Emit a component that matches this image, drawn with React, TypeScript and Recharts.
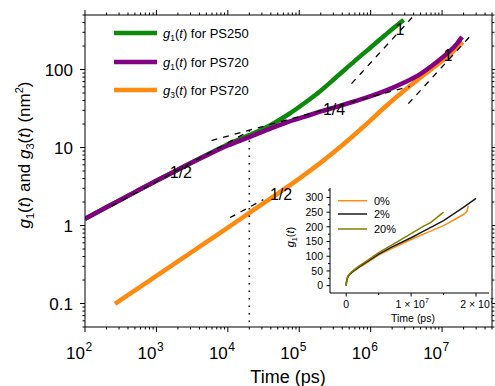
import React from "react";
import { LineChart, Line, XAxis, YAxis, ReferenceDot } from "recharts";

const FONT = "'Liberation Sans', Arial, Helvetica, sans-serif";

// main chart series, [time (ps), g (nm^2)]
const ps250G1 = [
	[100, 1.22], [200, 1.71], [500, 2.68], [1e3, 3.75], [2e3, 5.2], [5e3, 8.0], [1e4, 11.0], [2e4, 14.4],
	[4e4, 19.5], [7e4, 26.5], [1.2e5, 37.5], [2e5, 53.6], [3.5e5, 83.7], [6e5, 129], [1e6, 192],
	[1.6e6, 277], [2.2e6, 354], [2.9e6, 432],
];
const ps720G1 = [
	[100, 1.22], [200, 1.71], [500, 2.68], [1e3, 3.75], [2e3, 5.2], [5e3, 7.9], [1e4, 10.6], [2e4, 13.6],
	[4e4, 17.6], [7e4, 21.3], [1.2e5, 24.9], [2e5, 29.0], [3.5e5, 33.7], [6e5, 39.2], [1e6, 45.5],
	[1.8e6, 55.6], [3e6, 68.5], [5e6, 88], [8e6, 120], [1.2e7, 163], [1.6e7, 212], [1.9e7, 262],
];
const ps720G3 = [
	[263, 0.099], [500, 0.147], [1e3, 0.226], [2e3, 0.347], [5e3, 0.612], [1e4, 0.94], [2e4, 1.45],
	[5e4, 2.57], [1e5, 4.0], [2e5, 6.4], [4e5, 10.7], [8e5, 18.6], [1.6e6, 33.3], [3.2e6, 57],
	[5e6, 79], [8e6, 110], [1.28e7, 156], [1.95e7, 224],
];

// guide lines
const slopeHalfA = [[237, 1.77], [2.05e4, 16.5]];
const slopeQuarter = [[5.9e3, 12.3], [3.56e6, 61]];
const slopeHalfB = [[1.07e4, 1.26], [3.14e4, 2.15]];
const slopeOneA = [[5.4e5, 66], [3.8e6, 464]];
const slopeOneB = [[3.37e6, 36.5], [2.47e7, 267]];
const crossover = [[2e4, 0.058], [2e4, 13.5]];

const slopeLabels = [
	{ t: 2.2e3, g: 4.79, text: "1/2" },
	{ t: 5.56e4, g: 2.5, text: "1/2" },
	{ t: 3.07e5, g: 30.8, text: "1/4" },
	{ t: 2.58e6, g: 328, text: "1" },
	{ t: 1.21e7, g: 152, text: "1" },
];

const xDecades = [1e2, 1e3, 1e4, 1e5, 1e6, 1e7];
const yDecades = [0.01, 0.1, 1, 10, 100];
const yLabels: Record<string, string> = { "0.1": "0.1", "1": "1", "10": "10", "100": "100" };
const mults = [1, 2, 3, 4, 5, 6, 7, 8, 9];
const xTicks = xDecades.flatMap((d) => mults.map((m) => m * d)).filter((v) => v >= 100 && v <= 5e7);
const yTicks = yDecades.flatMap((d) => mults.map((m) => +(m * d).toPrecision(3))).filter((v) => v >= 0.05 && v <= 500);

// inset series, [time (ps), g1 (nm^2)]
const inset0 = [
	[0, 0], [3e4, 10], [1e5, 20], [3e5, 32], [6e5, 39], [1e6, 47], [2e6, 62], [3e6, 75], [5e6, 104],
	[7e6, 126], [1e7, 157], [1.2e7, 176], [1.5e7, 204], [1.8e7, 241], [1.86e7, 252], [1.88e7, 271],
];
const inset2 = [
	[0, 0], [3e4, 10], [1e5, 20], [3e5, 32], [6e5, 40], [1e6, 48], [2e6, 64], [3e6, 78], [5e6, 107],
	[7e6, 131], [1e7, 163], [1.2e7, 186], [1.5e7, 221], [1.8e7, 265], [2e7, 297],
];
const inset20 = [
	[0, 0], [3e4, 11], [1e5, 22], [3e5, 34], [6e5, 42], [1e6, 50], [2e6, 67], [3e6, 82], [5e6, 112],
	[7e6, 138], [1e7, 177], [1.2e7, 203], [1.3e7, 214], [1.4e7, 232], [1.5e7, 250],
];
const insetXTicks = [0, 5e6, 1e7, 1.5e7, 2e7];
const insetXLabels: Record<string, string> = { "0": "0", "10000000": "1", "20000000": "2" };
const insetYTicks = [0, 25, 50, 75, 100, 125, 150, 175, 200, 225, 250, 275, 300, 325];

const pts = (a: number[][]) => a.map(([t, g]) => ({ t, g }));

const isMajor = (v: number) => Math.abs(Math.log10(v) - Math.round(Math.log10(v))) < 1e-6;

function XTick(props: any) {
	const { x, y, payload, side } = props;
	const v = payload.value;
	const major = isMajor(v);
	const d = side === "top" ? -1 : 1;
	return (
		<g>
			<line x1={x} x2={x} y1={y} y2={y + d * (major ? 5 : 2.5)} stroke="#000" />
			{major && side === "bottom" && (
				<g fontFamily={FONT} fill="#000">
					<text x={x} y={y + 32} textAnchor="end" fontSize={17}>10</text>
					<text x={x + 0.5} y={y + 24} fontSize={12}>{Math.round(Math.log10(v))}</text>
				</g>
			)}
		</g>
	);
}

function YTick(props: any) {
	const { x, y, payload, side } = props;
	const v = payload.value;
	const major = isMajor(v);
	const d = side === "right" ? 1 : -1;
	return (
		<g>
			<line x1={x} x2={x + d * (major ? 5 : 2.5)} y1={y} y2={y} stroke="#000" />
			{major && side === "left" && yLabels[String(v)] && (
				<text x={x - 12} y={y + 6} textAnchor="end" fontSize={17} fontFamily={FONT} fill="#000">
					{yLabels[String(v)]}
				</text>
			)}
		</g>
	);
}

function InsetXTick(props: any) {
	const { x, y, payload } = props;
	const v = payload.value;
	const lab = insetXLabels[String(v)];
	return (
		<g fontFamily={FONT} fill="#000">
			<line x1={x} x2={x} y1={y} y2={y + (lab ? 3.5 : 2)} stroke="#000" />
			{lab === "0" && (
				<text x={x} y={y + 15} textAnchor="middle" fontSize={10.5}>0</text>
			)}
			{lab && lab !== "0" && (
				<text x={x + 1} y={y + 15} textAnchor="middle" fontSize={10.5}>
					{lab} × 10<tspan dy={-5} fontSize={7}>7</tspan>
				</text>
			)}
		</g>
	);
}

function InsetYTick(props: any) {
	const { x, y, payload } = props;
	const v = payload.value;
	const major = v % 50 === 0 && v <= 300;
	return (
		<g>
			<line x1={x} x2={x - (major ? 3.5 : 2)} y1={y} y2={y} stroke="#000" />
			{major && (
				<text x={x - 7} y={y + 3.8} textAnchor="end" fontSize={10.5} fontFamily={FONT} fill="#000">
					{v}
				</text>
			)}
		</g>
	);
}

const guideProps = { stroke: "#000", strokeWidth: 1.3, strokeDasharray: "6 6", dot: false, isAnimationActive: false, type: "linear" as const };

function Gt({ sub, size }: { sub: string; size: number }) {
	return (
		<>
			<tspan fontStyle="italic">g</tspan>
			<tspan fontSize={size * 0.65} dy={size * 0.25}>{sub}</tspan>
			<tspan dy={-size * 0.25}>(</tspan>
			<tspan fontStyle="italic">t</tspan>
			<tspan>)</tspan>
		</>
	);
}

const legendItems = [
	{ color: "#0b8a0b", sub: "1", name: " for PS250", y: 33 },
	{ color: "#820082", sub: "1", name: " for PS720", y: 62 },
	{ color: "#ff8a10", sub: "3", name: " for PS720", y: 90 },
];
const insetLegend = [
	{ color: "#ff8a10", name: "0%", y: 200.7 },
	{ color: "#1a1a1a", name: "2%", y: 214 },
	{ color: "#808000", name: "20%", y: 229 },
];

export default function App() {
	return (
		<div style={{ position: "absolute", left: 0, top: 0, width: 495, height: 386, background: "#fff" }}>
			<LineChart width={495} height={386} margin={{ top: 14, right: 2, left: 84, bottom: 58 }}>
				<XAxis dataKey="t" type="number" scale="log" domain={[100, 5e7]} allowDataOverflow ticks={xTicks} interval={0}
					height={1} tickSize={0} tickMargin={0} stroke="#000" tick={(p: any) => <XTick {...p} side="bottom" />} />
				<XAxis xAxisId="top" orientation="top" dataKey="t" type="number" scale="log" domain={[100, 5e7]} allowDataOverflow ticks={xTicks} interval={0}
					height={1} tickSize={0} tickMargin={0} stroke="#000" tick={(p: any) => <XTick {...p} side="top" />} />
				<YAxis type="number" scale="log" domain={[0.05, 500]} allowDataOverflow ticks={yTicks} interval={0}
					width={1} tickSize={0} tickMargin={0} stroke="#000" tick={(p: any) => <YTick {...p} side="left" />} />
				<YAxis yAxisId="right" orientation="right" type="number" scale="log" domain={[0.05, 500]} allowDataOverflow ticks={yTicks} interval={0}
					width={1} tickSize={0} tickMargin={0} stroke="#000" tick={(p: any) => <YTick {...p} side="right" />} />
				<Line data={pts(ps250G1)} dataKey="g" type="monotone" stroke="#0b8a0b" strokeWidth={4.5} dot={false} isAnimationActive={false} />
				<Line data={pts(ps720G3)} dataKey="g" type="monotone" stroke="#ff8a10" strokeWidth={4.5} dot={false} isAnimationActive={false} />
				<Line data={pts(ps720G1)} dataKey="g" type="monotone" stroke="#820082" strokeWidth={4.5} dot={false} isAnimationActive={false} />
				<Line data={pts(slopeHalfA)} dataKey="g" {...guideProps} />
				<Line data={pts(slopeQuarter)} dataKey="g" {...guideProps} />
				<Line data={pts(slopeHalfB)} dataKey="g" {...guideProps} />
				<Line data={pts(slopeOneA)} dataKey="g" {...guideProps} />
				<Line data={pts(slopeOneB)} dataKey="g" {...guideProps} />
				<Line data={pts(crossover)} dataKey="g" {...guideProps} strokeWidth={1.6} strokeDasharray="1.5 6" />
				{slopeLabels.map((l, i) => (
					<ReferenceDot key={i} x={l.t} y={l.g} r={0} stroke="none" fill="none"
						label={{ value: l.text, position: "center", fontSize: 16, fill: "#000", fontFamily: FONT }} />
				))}
			</LineChart>

			<div style={{ position: "absolute", left: 270, top: 180 }}>
				<LineChart width={225} height={150} margin={{ top: 8, right: 6, left: 59, bottom: 36 }}>
					<XAxis dataKey="t" type="number" domain={[-2.5e6, 2.2e7]} allowDataOverflow ticks={insetXTicks} interval={0}
						height={1} tickSize={0} tickMargin={0} stroke="#000" tick={(p: any) => <InsetXTick {...p} />} />
					<YAxis type="number" domain={[-25, 332]} allowDataOverflow ticks={insetYTicks} interval={0}
						width={1} tickSize={0} tickMargin={0} stroke="#000" tick={(p: any) => <InsetYTick {...p} />} />
					<Line data={pts(inset0)} dataKey="g" type="linear" stroke="#ff8a10" strokeWidth={1.5} dot={false} isAnimationActive={false} />
					<Line data={pts(inset2)} dataKey="g" type="linear" stroke="#1a1a1a" strokeWidth={1.5} dot={false} isAnimationActive={false} />
					<Line data={pts(inset20)} dataKey="g" type="linear" stroke="#808000" strokeWidth={1.5} dot={false} isAnimationActive={false} />
				</LineChart>
			</div>

			<svg width={495} height={386} style={{ position: "absolute", left: 0, top: 0, pointerEvents: "none" }} fontFamily={FONT}>
				{legendItems.map((l) => (
					<g key={l.y}>
						<line x1={114} x2={157} y1={l.y} y2={l.y} stroke={l.color} strokeWidth={4.5} />
						<text x={163} y={l.y + 5} fontSize={13} fill="#000">
							<Gt sub={l.sub} size={13} />
							<tspan>{l.name}</tspan>
						</text>
					</g>
				))}
				<text transform="translate(30,155) rotate(-90)" textAnchor="middle" fontSize={17} fill="#000">
					<Gt sub="1" size={17} />
					<tspan> and </tspan>
					<Gt sub="3" size={17} />
					<tspan> (nm</tspan>
					<tspan fontSize={11} dy={-7}>2</tspan>
					<tspan dy={7}>)</tspan>
				</text>
				<text x={288} y={383} textAnchor="middle" fontSize={18} fill="#000">Time (ps)</text>

				{insetLegend.map((l) => (
					<g key={l.y}>
						<line x1={338} x2={367} y1={l.y} y2={l.y} stroke={l.color} strokeWidth={1.5} />
						<text x={374} y={l.y + 4} fontSize={11} fill="#000">{l.name}</text>
					</g>
				))}
				<text transform="translate(294,237) rotate(-90)" textAnchor="middle" fontSize={11} fill="#000">
					<Gt sub="1" size={11} />
				</text>
				<text x={413} y={321.5} textAnchor="middle" fontSize={10.5} fill="#000">Time (ps)</text>
			</svg>
		</div>
	);
}
